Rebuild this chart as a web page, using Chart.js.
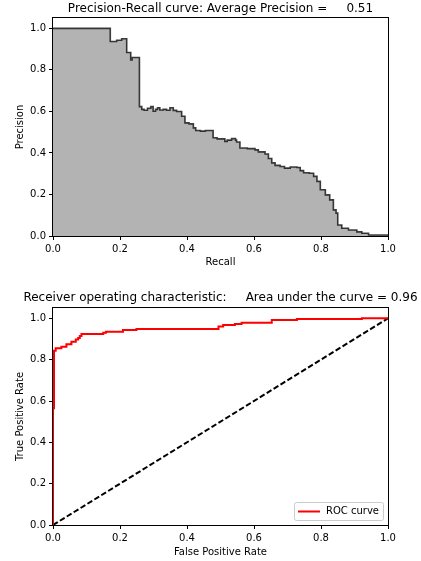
<!DOCTYPE html>
<html>
<head>
<meta charset="utf-8">
<script src="https://cdn.jsdelivr.net/npm/chart.js@4.4.1/dist/chart.umd.min.js"></script>
<style>
  body { margin: 0; background: #fff; }
  canvas { display: block; }
</style>
</head>
<body>
<canvas id="pr_chart" width="421" height="280"></canvas>
<canvas id="roc_chart" width="421" height="281"></canvas>
<script>
// precision-recall curve, each point is the left end of a flat step
var prRecall = [0, 0.171, 0.19, 0.205, 0.220, 0.232, 0.236, 0.258, 0.265, 0.272, 0.282, 0.292,
  0.299, 0.306, 0.312, 0.319, 0.329, 0.339, 0.349, 0.359, 0.369, 0.384, 0.394, 0.406,
  0.419, 0.426, 0.44, 0.455, 0.478, 0.49, 0.513, 0.52, 0.533, 0.545, 0.548, 0.558,
  0.58, 0.603, 0.613, 0.633, 0.643, 0.653, 0.663, 0.678, 0.691, 0.708, 0.728, 0.738,
  0.748, 0.765, 0.778, 0.788, 0.798, 0.813, 0.826, 0.837, 0.845, 0.850, 0.862, 0.882,
  0.907, 0.922, 0.942, 1.0];
var prPrecision = [1.0, 0.937, 0.943, 0.950, 0.884, 0.848, 0.860, 0.623, 0.610, 0.606, 0.615, 0.623,
  0.601, 0.610, 0.618, 0.607, 0.610, 0.606, 0.618, 0.605, 0.600, 0.577, 0.545, 0.540,
  0.521, 0.508, 0.505, 0.508, 0.473, 0.468, 0.456, 0.462, 0.469, 0.462, 0.453, 0.424,
  0.421, 0.415, 0.405, 0.395, 0.373, 0.352, 0.340, 0.335, 0.327, 0.332, 0.330, 0.315,
  0.305, 0.302, 0.287, 0.263, 0.223, 0.198, 0.174, 0.126, 0.110, 0.053, 0.037, 0.029,
  0.020, 0.013, 0.005, 0.003];

// ROC curve
var rocFpr = [0, 0, 0.003, 0.003, 0.008, 0.025, 0.04, 0.055, 0.068, 0.075, 0.08, 0.085,
  0.15, 0.158, 0.209, 0.249, 0.494, 0.508, 0.543, 0.563, 0.653, 0.728, 0.922, 1.0];
var rocTpr = [0, 0.565, 0.80, 0.843, 0.855, 0.863, 0.874, 0.887, 0.898, 0.905, 0.915, 0.924,
  0.93, 0.935, 0.944, 0.948, 0.96, 0.968, 0.972, 0.979, 0.992, 0.997, 1.0, 1.0];

var chanceX = [0, 1];
var chanceY = [0, 1];

var tickValues = [0, 0.2, 0.4, 0.6, 0.8, 1.0];

var prTitle = 'Precision-Recall curve: Average Precision =     0.51';
var rocTitle = 'Receiver operating characteristic:     Area under the curve = 0.96';

function points(xs, ys) {
  return xs.map(function (x, i) { return {x: x, y: ys[i]}; });
}

Chart.defaults.font.family = 'DejaVu Sans';
Chart.defaults.font.size = 10;
Chart.defaults.color = '#000';
Chart.defaults.animation = false;

// matplotlib style frame drawn over the lines
var framePlugin = {
  id: 'frame',
  afterDatasetsDraw: function (chart) {
    var a = chart.chartArea, ctx = chart.ctx;
    ctx.save();
    ctx.strokeStyle = '#000';
    ctx.lineWidth = 1;
    ctx.strokeRect(Math.round(a.left) - 0.5, Math.round(a.top) - 0.5,
      Math.round(a.right - a.left) + 1, Math.round(a.bottom - a.top) + 1);
    ctx.restore();
  }
};

var axTitlePlugin = {
  id: 'axTitle',
  afterDraw: function (chart, args, opts) {
    var a = chart.chartArea, ctx = chart.ctx;
    ctx.save();
    ctx.font = '12px "DejaVu Sans"';
    ctx.fillStyle = '#000';
    ctx.textAlign = 'center';
    ctx.textBaseline = 'middle';
    ctx.fillText(opts.text, (a.left + a.right) / 2, a.top - opts.gap);
    ctx.restore();
  }
};

var boxLegendPlugin = {
  id: 'boxLegend',
  afterDraw: function (chart, args, opts) {
    if (!opts.show) return;
    var a = chart.chartArea, ctx = chart.ctx;
    var items = chart.data.datasets.filter(function (d) { return d.label; });
    var w = 89, h = 18;
    var x = a.right - 5 - w, y = a.bottom - 5 - h;
    ctx.save();
    ctx.fillStyle = 'rgba(255,255,255,0.8)';
    ctx.strokeStyle = '#cccccc';
    ctx.lineWidth = 1;
    ctx.beginPath();
    ctx.roundRect(x + 0.5, y + 0.5, w, h, 2);
    ctx.fill();
    ctx.stroke();
    items.forEach(function (d, i) {
      var cy = y + h / 2 + 0.5 + i * h;
      ctx.strokeStyle = d.borderColor;
      ctx.lineWidth = d.borderWidth;
      ctx.beginPath();
      ctx.moveTo(x + 4, cy);
      ctx.lineTo(x + 26, cy);
      ctx.stroke();
      ctx.fillStyle = '#000';
      ctx.font = '10px "DejaVu Sans"';
      ctx.textBaseline = 'middle';
      ctx.fillText(d.label, x + 32, cy);
    });
    ctx.restore();
  }
};

function axisOptions(label, fixedSize, titleGap, horizontal) {
  return {
    type: 'linear',
    min: 0,
    max: horizontal ? 1 : 1.05,
    afterBuildTicks: function (scale) {
      scale.ticks = tickValues.map(function (v) { return {value: v}; });
    },
    afterFit: function (scale) {
      if (horizontal) scale.height = fixedSize; else scale.width = fixedSize;
    },
    ticks: {
      padding: 3,
      callback: function (v) { return v.toFixed(1); }
    },
    grid: {
      drawOnChartArea: false,
      drawTicks: true,
      tickLength: 4,
      color: '#000'
    },
    border: { display: false },
    title: {
      display: true,
      text: label,
      padding: horizontal ? {top: 0, bottom: titleGap} : {top: titleGap, bottom: 0}
    }
  };
}

new Chart(document.getElementById('pr_chart'), {
  type: 'line',
  data: {
    datasets: [{
      data: points(prRecall, prPrecision),
      stepped: 'before',
      fill: 'origin',
      backgroundColor: '#b3b3b3',
      borderColor: 'rgba(0,0,0,0.75)',
      borderWidth: 1.6,
      pointRadius: 0
    }]
  },
  options: {
    responsive: false,
    layout: { padding: {top: 18, right: 33, left: 0, bottom: 0} },
    scales: {
      x: axisOptions('Recall', 44, 12, true),
      y: axisOptions('Precision', 53, 14, false)
    },
    plugins: {
      legend: { display: false },
      tooltip: { enabled: false },
      axTitle: { text: prTitle, gap: 9 },
      boxLegend: { show: false }
    }
  },
  plugins: [framePlugin, axTitlePlugin, boxLegendPlugin]
});

new Chart(document.getElementById('roc_chart'), {
  type: 'line',
  data: {
    datasets: [{
      label: 'ROC curve',
      data: points(rocFpr, rocTpr),
      stepped: 'before',
      fill: false,
      borderColor: '#ff0000',
      borderWidth: 2,
      pointRadius: 0
    }, {
      data: points(chanceX, chanceY),
      fill: false,
      borderColor: '#000000',
      borderWidth: 2,
      borderDash: [5.6, 2.5],
      pointRadius: 0
    }]
  },
  options: {
    responsive: false,
    layout: { padding: {top: 28, right: 33, left: 0, bottom: 0} },
    scales: {
      x: axisOptions('False Positive Rate', 36, 3, true),
      y: axisOptions('True Positive Rate', 53, 14, false)
    },
    plugins: {
      legend: { display: false },
      tooltip: { enabled: false },
      axTitle: { text: rocTitle, gap: 10 },
      boxLegend: { show: true }
    }
  },
  plugins: [framePlugin, axTitlePlugin, boxLegendPlugin]
});
</script>
</body>
</html>
